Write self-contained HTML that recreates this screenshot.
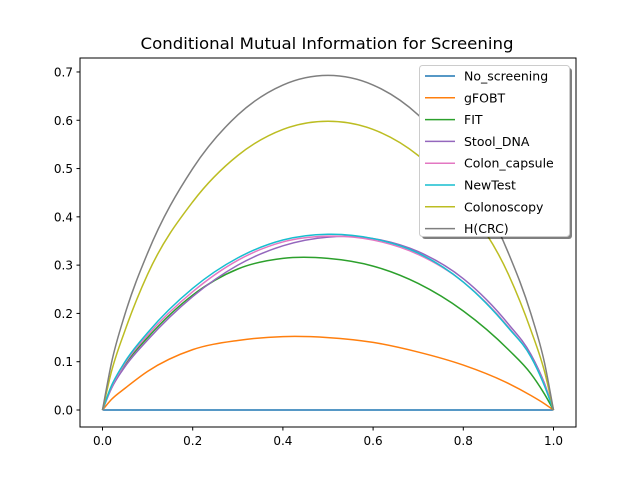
<!DOCTYPE html>
<html><head><meta charset="utf-8"><style>
body{margin:0;background:#fff;}
svg{display:block;font-family:"DejaVu Sans","Liberation Sans",sans-serif;}
</style></head><body>
<svg id="chart" width="640" height="480" viewBox="0 0 640 480">
<rect width="640" height="480" fill="#fff"/>
<text x="327" y="49" font-size="16" text-anchor="middle" textLength="373" lengthAdjust="spacingAndGlyphs">Conditional Mutual Information for Screening</text>
<g id="plot"></g>
<rect x="80" y="58" width="496" height="369" fill="none" stroke="#000" stroke-width="1"/>
<g id="ticks"></g>
<g id="legend"></g>
</svg>
<script>
const xs = [0,0.02,0.05,0.1,0.2,0.3,0.4,0.5,0.6,0.7,0.8,0.9,0.95,0.98,1];
const seriesNames = ["No_screening","gFOBT","FIT","Stool_DNA","Colon_capsule","NewTest","Colonoscopy","H(CRC)"];
const colors = ["#1f77b4","#ff7f0e","#2ca02c","#9467bd","#e377c2","#17becf","#bcbd22","#7f7f7f"];
const noScreening = [0,0,0,0,0,0,0,0,0,0,0,0,0,0,0];
const gFOBT = [0,0.022,0.045,0.08,0.125,0.144,0.152,0.15,0.14,0.12,0.093,0.055,0.03,0.013,0];
const fit = [0,0.05,0.095,0.15,0.238,0.292,0.314,0.314,0.298,0.262,0.205,0.125,0.075,0.033,0];
const stoolDNA = [0,0.045,0.09,0.145,0.235,0.3,0.34,0.358,0.355,0.328,0.272,0.178,0.115,0.055,0];
const colonCapsule = [0,0.048,0.097,0.155,0.245,0.31,0.348,0.36,0.352,0.322,0.265,0.172,0.11,0.052,0];
const newTest = [0,0.05,0.1,0.16,0.252,0.315,0.352,0.364,0.355,0.325,0.265,0.17,0.11,0.05,0];
const colonoscopy = [0,0.08,0.165,0.281,0.431,0.527,0.581,0.598,0.581,0.527,0.431,0.281,0.165,0.08,0];
const hCRC = [0,0.098,0.199,0.325,0.5,0.611,0.673,0.693,0.673,0.611,0.5,0.325,0.199,0.098,0];
const allSeries = [noScreening,gFOBT,fit,stoolDNA,colonCapsule,newTest,colonoscopy,hCRC];
const xTicks = [0,0.2,0.4,0.6,0.8,1.0];
const yTicks = [0,0.1,0.2,0.3,0.4,0.5,0.6,0.7];

const NS="http://www.w3.org/2000/svg";
function sx(v){return 102.5+v*451;}
function sy(v){return 410-v*482.9;}
function mk(t,a,p){const e=document.createElementNS(NS,t);for(const k in a)e.setAttribute(k,a[k]);p.appendChild(e);return e;}
function pathFor(ys){
  const n=xs.length, m=[];
  for(let i=0;i<n;i++){
    if(i===0) m.push((ys[1]-ys[0])/(xs[1]-xs[0]));
    else if(i===n-1) m.push((ys[n-1]-ys[n-2])/(xs[n-1]-xs[n-2]));
    else {
      const h0=xs[i]-xs[i-1],h1=xs[i+1]-xs[i];
      const d0=(ys[i]-ys[i-1])/h0,d1=(ys[i+1]-ys[i])/h1;
      m.push((d0*h1+d1*h0)/(h0+h1));
    }
  }
  let d="M"+sx(xs[0])+","+sy(ys[0]);
  for(let i=0;i<n-1;i++){
    const h=xs[i+1]-xs[i];
    const c1x=xs[i]+h/3,c1y=ys[i]+m[i]*h/3;
    const c2x=xs[i+1]-h/3,c2y=ys[i+1]-m[i+1]*h/3;
    d+=" C"+sx(c1x)+","+sy(c1y)+" "+sx(c2x)+","+sy(c2y)+" "+sx(xs[i+1])+","+sy(ys[i+1]);
  }
  return d;
}
const plot=document.getElementById("plot");
allSeries.forEach((ys,i)=>{
  const p=mk("path",{d:pathFor(ys),fill:"none",stroke:colors[i],"stroke-width":1.5},plot);
  
  
});
const tk=document.getElementById("ticks");
xTicks.forEach(v=>{
  const l=mk("line",{x1:sx(v),x2:sx(v),y1:427,y2:430.5,stroke:"#000"},tk);
  
  
  const t=mk("text",{x:sx(v),y:445,"font-size":12,"text-anchor":"middle"},tk);
  t.textContent=v.toFixed(1);
  
  
});
yTicks.forEach(v=>{
  const l=mk("line",{x1:76.5,x2:80,y1:sy(v),y2:sy(v),stroke:"#000"},tk);
  
  
  const t=mk("text",{x:73,y:sy(v)+4.5,"font-size":12,"text-anchor":"end"},tk);
  t.textContent=v.toFixed(1);
  
  
});
const lg=document.getElementById("legend");
const sh=mk("rect",{x:422,y:68,width:150,height:171,rx:3,fill:"#000","fill-opacity":0.5},lg);


const box=mk("rect",{x:419.5,y:65.5,width:150,height:171,rx:3,fill:"#fff",stroke:"#ccc"},lg);


seriesNames.forEach((n,i)=>{
  const y=76+i*21.8;
  const l=mk("line",{x1:425,x2:455,y1:y,y2:y,stroke:colors[i],"stroke-width":1.5},lg);
  
  
  const t=mk("text",{x:464,y:y+4.5,"font-size":12.5},lg);
  t.textContent=n;
  
  
});
</script>
</body></html>
